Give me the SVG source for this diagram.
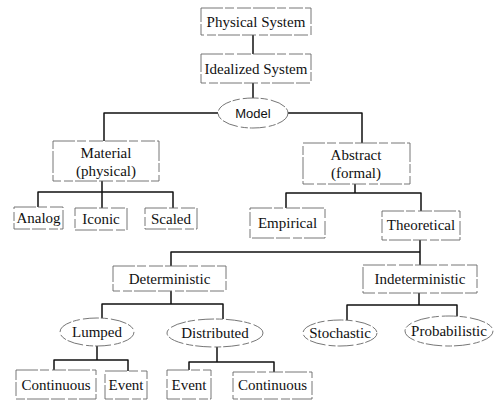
<svg xmlns="http://www.w3.org/2000/svg" width="502" height="400" viewBox="0 0 502 400">
<style>
.box{fill:#fff;stroke:#666;stroke-width:0.9;stroke-dasharray:22 2 9 3 14 2}
.ell{fill:#fff;stroke:#666;stroke-width:0.9;stroke-dasharray:16 2 7 3}
.t{font-family:"Liberation Serif","Times New Roman",serif;font-size:15px;fill:#111;text-anchor:middle}
.s{font-family:"Liberation Sans",Arial,sans-serif;font-size:13px;fill:#111;text-anchor:middle}
.c{fill:none;stroke:#111;stroke-width:1.5;stroke-linejoin:round}
</style>
<rect width="502" height="400" fill="#fff"/>
<g id="connectors">
<path class="c" d="M253,35V54"/>
<path class="c" d="M253,83V98"/>
<path class="c" d="M218,113H104V141"/>
<path class="c" d="M288,113H362V143"/>
<path class="c" d="M102,181V192M38,207V192H173V208M102,192V208"/>
<path class="c" d="M355,184V193M286,208V193H421V211"/>
<path class="c" d="M420,240V265M171,266V252H420"/>
<path class="c" d="M171,291V304M102,318V304H223V319"/>
<path class="c" d="M419,293V305M347,320V305H457V316"/>
<path class="c" d="M97,346V360M54,370V360H128V371"/>
<path class="c" d="M217,347V362M189,370V362H274V372"/>
</g>
<g id="physical"><rect class="box" x="201" y="8" width="110" height="27"/><text class="t" x="256" y="27">Physical System</text></g>
<g id="idealized"><rect class="box" x="201" y="54" width="110" height="29"/><text class="t" x="256" y="74">Idealized System</text></g>
<g id="model"><ellipse class="ell" cx="253" cy="113" rx="35" ry="15"/><text class="s" x="253" y="118">Model</text></g>
<g id="material"><rect class="box" x="53" y="141" width="106" height="40"/><text class="t" x="106" y="158">Material</text><text class="t" x="106" y="176">(physical)</text></g>
<g id="abstract"><rect class="box" x="303" y="143" width="107" height="41"/><text class="t" x="356" y="160">Abstract</text><text class="t" x="356" y="178">(formal)</text></g>
<g id="analog"><rect class="box" x="14" y="207" width="49" height="22"/><text class="t" x="38.5" y="223">Analog</text></g>
<g id="iconic"><rect class="box" x="75" y="208" width="52" height="22"/><text class="t" x="101" y="224">Iconic</text></g>
<g id="scaled"><rect class="box" x="145" y="208" width="52" height="21"/><text class="t" x="171" y="224">Scaled</text></g>
<g id="empirical"><rect class="box" x="250" y="208" width="75" height="30"/><text class="t" x="287.5" y="228">Empirical</text></g>
<g id="theoretical"><rect class="box" x="382" y="211" width="78" height="29"/><text class="t" x="421" y="230">Theoretical</text></g>
<g id="deterministic"><rect class="box" x="113" y="266" width="113" height="25"/><text class="t" x="169.5" y="284">Deterministic</text></g>
<g id="indeterministic"><rect class="box" x="363" y="265" width="114" height="28"/><text class="t" x="420" y="284">Indeterministic</text></g>
<g id="lumped"><ellipse class="ell" cx="97" cy="332" rx="37" ry="14"/><text class="t" x="97" y="337">Lumped</text></g>
<g id="distributed"><ellipse class="ell" cx="215" cy="333" rx="48" ry="14"/><text class="t" x="215" y="338">Distributed</text></g>
<g id="stochastic"><ellipse class="ell" cx="340" cy="333" rx="37" ry="13"/><text class="t" x="340" y="338">Stochastic</text></g>
<g id="probabilistic"><ellipse class="ell" cx="449" cy="331" rx="44" ry="15"/><text class="t" x="449" y="336">Probabilistic</text></g>
<g id="continuous1"><rect class="box" x="16" y="370" width="80" height="29"/><text class="t" x="56" y="390">Continuous</text></g>
<g id="event1"><rect class="box" x="105" y="371" width="42" height="28"/><text class="t" x="126" y="390">Event</text></g>
<g id="event2"><rect class="box" x="167" y="370" width="44" height="29"/><text class="t" x="189" y="390">Event</text></g>
<g id="continuous2"><rect class="box" x="233" y="372" width="79" height="27"/><text class="t" x="272.5" y="390">Continuous</text></g>
</svg>
